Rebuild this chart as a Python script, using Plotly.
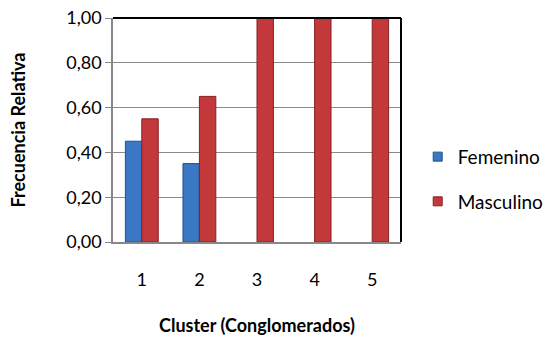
import plotly.graph_objects as go

clusters = ["1", "2", "3", "4", "5"]
femenino = [0.45, 0.35, None, None, None]
masculino = [0.55, 0.65, 1.0, 1.0, 1.0]

FONT = "Lato"
BLUE = "#3a77c4"
RED = "#c3383a"

fig = go.Figure()
fig.add_trace(go.Bar(
    x=clusters, y=femenino, name="Femenino", showlegend=False,
    marker=dict(color=BLUE, line=dict(color="#24508a", width=1)),
))
fig.add_trace(go.Bar(
    x=clusters, y=masculino, name="Masculino", showlegend=False,
    marker=dict(color=RED, line=dict(color="#862224", width=1)),
))
# legend entries (small square swatches)
fig.add_trace(go.Scatter(x=[None], y=[None], mode="markers", name="Femenino", legendgroup="f",
                         marker=dict(symbol="square", size=9, color=BLUE,
                                     line=dict(color="#24508a", width=1))))
fig.add_trace(go.Scatter(x=[None], y=[None], mode="markers", name="Masculino", legendgroup="m",
                         marker=dict(symbol="square", size=9, color=RED,
                                     line=dict(color="#862224", width=1))))

fig.update_layout(
    width=548, height=338,
    margin=dict(l=113, r=147, t=18, b=96, autoexpand=False),
    paper_bgcolor="white", plot_bgcolor="white",
    barmode="group", bargap=0.43, bargroupgap=0,
    separators=",.",
    font=dict(family=FONT, size=18, color="#000"),
    showlegend=True,
    legend=dict(x=1.058, xanchor="left", y=0.28, yanchor="middle",
                font=dict(size=19), tracegroupgap=17, itemwidth=30,
                bgcolor="rgba(0,0,0,0)"),
    xaxis=dict(
        showline=True, linecolor="#888", linewidth=1.5, automargin=False,
        ticks="", showgrid=False, ticklabelstandoff=21,
        title=dict(text="<b>Cluster (Conglomerados)</b>", font=dict(size=18), standoff=30),
    ),
    yaxis=dict(
        range=[0, 1], dtick=0.2, tickformat=".2f", automargin=False,
        showline=True, linecolor="#888", linewidth=1.5,
        ticks="outside", ticklen=6, tickcolor="#888",
        showgrid=True, gridcolor="#8a8a8a", gridwidth=1,
        zeroline=False,
        title=dict(text="<b>Frecuencia Relativa</b>", font=dict(size=18), standoff=36),
    ),
)

# black border on top and right of plot area
fig.add_shape(type="line", xref="x domain", yref="y domain", x0=0, x1=1, y0=1, y1=1,
              line=dict(color="black", width=2))
fig.add_shape(type="line", xref="x domain", yref="y domain", x0=1, x1=1, y0=0, y1=1,
              line=dict(color="black", width=2))

fig.write_html("out.html", config={"displayModeBar": False},
               post_script="document.body.style.margin='0';")
